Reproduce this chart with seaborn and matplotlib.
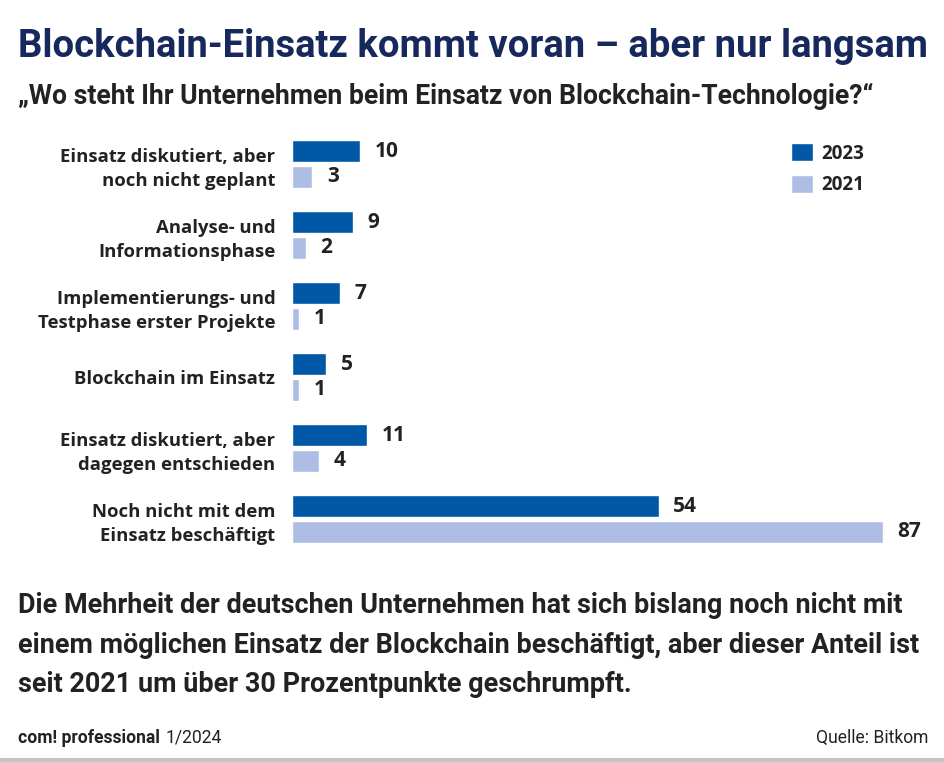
import matplotlib
matplotlib.use("Agg")
import matplotlib.pyplot as plt
import seaborn as sns
import pandas as pd
from matplotlib.patches import Patch, Rectangle

# ---------------- data ----------------
categories = [
    "Einsatz diskutiert, aber\nnoch nicht geplant",
    "Analyse- und\nInformationsphase",
    "Implementierungs- und\nTestphase erster Projekte",
    "Blockchain im Einsatz",
    "Einsatz diskutiert, aber\ndagegen entschieden",
    "Noch nicht mit dem\nEinsatz beschäftigt",
]
values_2023 = [10, 9, 7, 5, 11, 54]
values_2021 = [3, 2, 1, 1, 4, 87]
years = ["2023", "2021"]

title = "Blockchain-Einsatz kommt voran – aber nur langsam"
subtitle = "„Wo steht Ihr Unternehmen beim Einsatz von Blockchain-Technologie?“"
body_lines = [
    "Die Mehrheit der deutschen Unternehmen hat sich bislang noch nicht mit",
    "einem möglichen Einsatz der Blockchain beschäftigt, aber dieser Anteil ist",
    "seit 2021 um über 30 Prozentpunkte geschrumpft.",
]
footer_bold = "com! professional"
footer_regular = "1/2024"
source = "Quelle: Bitkom"

# ---------------- style ----------------
C23 = "#0058a6"
C21 = "#aebde4"
NAVY = "#17285c"
TXT = "#222222"
WIDE = ['Open Sans', 'DejaVu Sans']

sns.set_theme(style="white")
plt.rcParams['font.family'] = ['Roboto', 'DejaVu Sans']

df = pd.DataFrame({
    "Kategorie": categories * 2,
    "Jahr": [years[0]] * len(categories) + [years[1]] * len(categories),
    "Wert": values_2023 + values_2021,
})

W, H = 945, 762
fig = plt.figure(figsize=(W / 100, H / 100), dpi=100)
fig.patch.set_facecolor("white")

ax = fig.add_axes([292 / W, 1 - 554.5 / H, 650 / W, 426 / H])
sns.barplot(data=df, y="Kategorie", x="Wert", hue="Jahr", hue_order=years,
            order=categories, palette=[C23, C21], orient="h", width=0.732,
            gap=0.19, saturation=1, ax=ax, legend=False)
ax.set_xlim(0, 650 / 6.793)
ax.set_ylim(len(categories) - 0.5, -0.5)
ax.set_xticks([])
ax.set_xlabel("")
ax.set_ylabel("")
for s in ax.spines.values():
    s.set_visible(False)
ax.tick_params(axis="y", length=0, pad=12)

renderer = fig.canvas.get_renderer()


def fit(t, target):
    for _ in range(3):
        w = t.get_window_extent(renderer).width
        t.set_fontsize(t.get_fontsize() * target / w)


ytl = ax.get_yticklabels()
for lab in ytl:
    lab.set_fontweight("bold")
    lab.set_fontfamily(WIDE)
    lab.set_fontsize(12.5)
    lab.set_color(TXT)
    lab.set_linespacing(1.45)

# size the tick font so that the widest label matches the reference width
probe = fig.text(0, 0, "Testphase erster Projekte", fontsize=12.5,
                 fontweight="bold", family=WIDE)
fit(probe, 236)
lab_fs = probe.get_fontsize()
probe.remove()
for lab in ytl:
    lab.set_fontsize(lab_fs)

for cont in ax.containers:
    ax.bar_label(cont, padding=10.5, fontsize=15, fontweight="bold",
                 color=TXT, family=WIDE)

handles = [Patch(facecolor=C23), Patch(facecolor=C21)]
leg = fig.legend(handles, years, loc="upper left",
                 bbox_to_anchor=(774 / W, 1 - 126 / H), frameon=False,
                 handlelength=1.2, handleheight=1.15, handletextpad=0.4,
                 labelspacing=0.6,
                 prop={"weight": "bold", "size": 13.5, "family": WIDE})
for t in leg.get_texts():
    t.set_color(TXT)

t = fig.text(18 / W, 1 - 57 / H, title, fontsize=26, fontweight="bold",
             color=NAVY, va="baseline", ha="left")
fit(t, 910)
t = fig.text(18 / W, 1 - 104 / H, subtitle, fontsize=16, fontweight="bold",
             color=TXT, va="baseline", ha="left")
fit(t, 860)

baselines = [613, 653, 692]
body_texts = []
for line, yb in zip(body_lines, baselines):
    body_texts.append(fig.text(18 / W, 1 - yb / H, line, fontsize=16,
                               fontweight="bold", color=TXT,
                               va="baseline", ha="left"))
fit(body_texts[0], 885)
for bt in body_texts[1:]:
    bt.set_fontsize(body_texts[0].get_fontsize())

fb = fig.text(18 / W, 1 - 743 / H, footer_bold, fontsize=11, fontweight="bold",
              color=TXT, va="baseline", ha="left")
fit(fb, 142)
fbw = fb.get_window_extent(renderer).width
fr = fig.text((18 + fbw + 6) / W, 1 - 743 / H, footer_regular,
              fontsize=fb.get_fontsize(), color=TXT, va="baseline", ha="left")
fig.text(928 / W, 1 - 743 / H, source, fontsize=fb.get_fontsize(), color=TXT,
         va="baseline", ha="right")

fig.patches.append(Rectangle((0, 0), 1, 4 / H, transform=fig.transFigure,
                             facecolor="#c4c4c4", edgecolor="none"))

fig.savefig("out.png", dpi=100, facecolor="white")
